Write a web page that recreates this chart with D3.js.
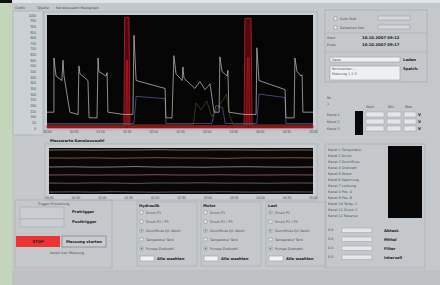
<!DOCTYPE html>
<html>
<head>
<meta charset="utf-8">
<script src="https://cdn.jsdelivr.net/npm/d3@7"></script>
<style>
body { margin: 0; background: #c4c8cb; }
svg { display: block; font-family: "DejaVu Sans", sans-serif; }
.tiny { font-size: 3.4px; fill: #4a4e52; }
.bold { font-size: 3.8px; font-weight: bold; fill: #1c1e20; }
.axis text { font-size: 3.3px; fill: #4a4e52; }
.axis path, .axis line { stroke: none; }
</style>
</head>
<body>
<div id="panel"></div>
<script>
// main graph, time in % of record, value in % of range
const grayT = [0, 2.6, 2.6, 3.4, 5.6, 6.0, 6.4, 8.6, 11.7, 12.0, 12.4, 15.4, 15.8, 18.8, 19.2, 19.5, 22.2, 22.6, 22.9,
    28.9, 32.3, 32.7, 33.5, 44.4, 44.7, 47.0, 47.7, 48.5, 50.8, 51.1, 51.5, 53.8, 55.6, 57.5, 59.4, 61.3, 62.8, 64.7,
    65.0, 65.8, 67.7, 68.0, 68.4, 74.1, 78.6, 78.9, 79.7, 89.5, 89.8, 92.9, 93.2, 94.0, 95.5, 95.9, 96.2, 100];
const grayV = [14, 14, 62, 46, 42, 60, 46, 14, 12, 55, 48, 42, 9, 9, 62, 50, 46, 49, 14,
    12, 12, 82, 42, 35, 9, 9, 64, 48, 42, 54, 44, 39, 35, 41, 34, 39, 14, 14,
    63, 50, 46, 51, 14, 12, 12, 71, 42, 34, 9, 9, 62, 50, 46, 47, 14, 14];
const redT = [0, 28.9, 29.2, 30.8, 31.2, 74.1, 74.4, 76.7, 77.1, 100];
const redV = [2, 2, 98, 98, 2, 2, 97, 97, 2, 2];
const darkRedT = [0, 29.7, 29.9, 30.3, 30.5, 75.1, 75.3, 75.9, 76.1, 100];
const darkRedV = [1, 1, 60, 60, 1, 1, 62, 62, 1, 1];
const blueT = [0, 32.7, 33.5, 44.4, 44.7, 62.0, 63.5, 66.0, 67.0, 78.9, 79.7, 89.5, 89.8, 100];
const blueV = [4, 4, 28, 26, 4, 4, 20, 18, 4, 4, 30, 27, 4, 4];
const yellowT = [0, 55.0, 56.0, 58.0, 60.0, 62.0, 67.5, 68.5, 70.0, 100];
const yellowV = [3, 3, 22, 16, 24, 10, 30, 12, 3, 3];
const yTicks = [0, 5, 10, 15, 20, 25, 30, 35, 40, 45, 50, 55, 60, 65, 70, 75, 80, 85, 90, 95, 100];
const xTicks = [0, 10, 20, 30, 40, 50, 60, 70, 80, 90, 100];
const xTickLabels = ["00:00", "00:30", "01:00", "01:30", "02:00", "02:30", "03:00", "03:30", "04:00", "04:30", "05:00"];

// strip chart, one lane per channel
const stripT = [0, 9, 17, 24, 33, 41, 50, 58, 66, 75, 83, 91, 100];
const laneA = [5.74, 5.76, 5.72, 5.75, 5.74, 5.78, 5.73, 5.74, 5.76, 5.74, 5.72, 5.75, 5.74];
const laneB = [4.70, 4.68, 4.72, 4.66, 4.70, 4.74, 4.69, 4.70, 4.64, 4.71, 4.70, 4.73, 4.70];
const laneC = [3.52, 3.55, 3.50, 3.52, 3.58, 3.51, 3.52, 3.49, 3.53, 3.56, 3.52, 3.50, 3.52];
const laneD = [2.48, 2.50, 2.46, 2.49, 2.48, 2.52, 2.47, 2.48, 2.51, 2.46, 2.48, 2.50, 2.48];
const laneE = [1.43, 1.40, 1.45, 1.43, 1.38, 1.44, 1.43, 1.46, 1.42, 1.43, 1.40, 1.44, 1.43];
const laneF = [0.26, 0.28, 0.25, 0.30, 0.26, 0.24, 0.27, 0.26, 0.29, 0.25, 0.26, 0.28, 0.26];
const laneColors = ["#d9b9a6", "#c89868", "#dcdcd6", "#d88a94", "#7aa8a6", "#9a9cc4"];

const svg = d3.select("#panel").append("svg")
    .attr("width", 440)
    .attr("height", 285);

// background pieces
svg.append("rect").attr("width", 440).attr("height", 285).attr("fill", "#c4c8cb");
svg.append("rect").attr("x", 0).attr("y", 0).attr("width", 12).attr("height", 285).attr("fill", "#c3d5bb");
svg.append("rect").attr("x", 0).attr("y", 0).attr("width", 12).attr("height", 3).attr("fill", "#111");
svg.append("rect").attr("x", 12).attr("y", 0).attr("width", 428).attr("height", 3).attr("fill", "#dde4ea");
svg.append("rect").attr("x", 12).attr("y", 270).attr("width", 428).attr("height", 15).attr("fill", "#bdc1c4");

function label(x, y, t, cls, anchor) {
    svg.append("text").attr("class", cls || "tiny").attr("x", x).attr("y", y)
        .attr("text-anchor", anchor || "start").text(t);
}
function box(x, y, w, h, fill, stroke) {
    svg.append("rect").attr("x", x).attr("y", y).attr("width", w).attr("height", h)
        .attr("fill", fill || "none").attr("stroke", stroke || "#a3a8ad").attr("stroke-width", 0.6);
}
function check(x, y, on) {
    box(x, y, 3, 3, "#f4f4f4", "#8a8f94");
    if (on) svg.append("rect").attr("x", x + 0.8).attr("y", y + 0.8).attr("width", 1.4).attr("height", 1.4).attr("fill", "#2a7a4a");
}

// menu
label(15, 9, "Grafik", "tiny");
label(37, 9, "Tabelle", "tiny");
label(56, 9, "Kanalauswahl Messgraph", "tiny");

// main graph
const x = d3.scaleLinear().domain([0, 100]).range([47, 313]);
const y = d3.scaleLinear().domain([0, 100]).range([128, 15]);

box(13, 11, 30, 124, "#ccd1d6", "#a7acb1");
box(44, 12, 273, 118, "#c9cdd1", "#a3a8ad");
svg.append("rect").attr("x", 47).attr("y", 15).attr("width", 266).attr("height", 113).attr("fill", "#050505");

svg.append("g").attr("class", "axis")
    .attr("transform", "translate(39,0)")
    .call(d3.axisLeft(y).tickValues(yTicks).tickSize(0).tickPadding(3).tickFormat(d => (d * 10).toFixed(0)));
svg.append("g").attr("class", "axis")
    .attr("transform", "translate(0,129)")
    .call(d3.axisBottom(x).tickValues(xTicks).tickSize(0).tickPadding(2).tickFormat((d, i) => xTickLabels[i]));

const line = d3.line().x(d => x(d[0])).y(d => y(d[1]));
const area = d3.area().x(d => x(d[0])).y0(y(0)).y1(d => y(d[1]));
function trace(ts, vs, color, w, op) {
    svg.append("path")
        .datum(ts.map((t, i) => [t, vs[i]]))
        .attr("d", line)
        .attr("fill", "none")
        .attr("stroke", color)
        .attr("stroke-width", w)
        .attr("opacity", op);
}
// red channel drawn as a band
svg.append("path")
    .datum(redT.map((t, i) => [t, redV[i]]))
    .attr("d", area)
    .attr("fill", "#4e0a10")
    .attr("stroke", "#b81a24")
    .attr("stroke-width", 0.9);
trace(darkRedT, darkRedV, "#d8242c", 0.8, 0.8);
trace(blueT, blueV, "#4c5c8e", 0.9, 0.85);
trace(yellowT, yellowV, "#a89040", 0.6, 0.55);
trace(grayT, grayV, "#c2c2bb", 0.8, 0.9);

// strip chart
const x2 = d3.scaleLinear().domain([0, 100]).range([49, 313]);
const y2 = d3.scaleLinear().domain([0, 6]).range([194, 148]);
label(50, 142, "Messwerte Kanalauswahl", "bold");
box(45, 144, 272, 56, "#c9cdd1", "#a3a8ad");
svg.append("rect").attr("x", 49).attr("y", 148).attr("width", 264).attr("height", 46).attr("fill", "#0a0506");
svg.append("g").attr("class", "axis")
    .attr("transform", "translate(0,195)")
    .call(d3.axisBottom(x2).tickValues(xTicks).tickSize(0).tickPadding(2).tickFormat((d, i) => xTickLabels[i]));
const line2 = d3.line().x(d => x2(d[0])).y(d => y2(d[1]));
[laneA, laneB, laneC, laneD, laneE, laneF].forEach((lane, k) => {
    svg.append("path")
        .datum(stripT.map((t, i) => [t, lane[i]]))
        .attr("d", line2)
        .attr("fill", "none")
        .attr("stroke", laneColors[k])
        .attr("stroke-width", 0.7)
        .attr("opacity", 0.8);
});

// right upper settings
box(325, 10, 102, 72, "none", "#a3a8ad");
check(334, 17, false);
label(340, 20, "Auto Skal.", "tiny");
box(378, 16, 32, 4, "#d4d8dc", "#9aa0a6");
check(334, 26, false);
label(340, 29, "Zeitachse fest", "tiny");
box(378, 25, 32, 4, "#d4d8dc", "#9aa0a6");
svg.append("line").attr("x1", 326).attr("x2", 426).attr("y1", 33).attr("y2", 33).attr("stroke", "#a3a8ad").attr("stroke-width", 0.5);
label(327, 39, "Start", "tiny");
label(362, 39, "10.10.2007 09:12", "bold");
label(327, 46, "Ende", "tiny");
label(362, 46, "10.10.2007 09:17", "bold");
svg.append("line").attr("x1", 326).attr("x2", 426).attr("y1", 52).attr("y2", 52).attr("stroke", "#a3a8ad").attr("stroke-width", 0.5);
box(330, 57, 70, 5, "#eef0f2", "#9aa0a6");
label(332, 60.8, "Datei", "tiny");
label(403, 61, "Laden", "bold");
box(330, 66, 70, 14, "#eef0f2", "#9aa0a6");
label(332, 70, "Kommentar  ...", "tiny");
label(332, 75, "Messung  1  2  3", "tiny");
label(403, 70, "Speich.", "bold");

// right table
label(327, 99, "Nr.", "tiny");
label(327, 105, "1", "tiny");
label(366, 108, "Wert", "tiny");
label(388, 108, "Min", "tiny");
label(405, 108, "Max", "tiny");
svg.append("rect").attr("x", 355).attr("y", 111).attr("width", 8).attr("height", 24).attr("fill", "#08080a");
["Kanal 1", "Kanal 2", "Kanal 3"].forEach((t, i) => {
    label(327, 116 + i * 7, t, "tiny");
    box(366, 112 + i * 7, 18, 5, "#e4e7ea", "#a3a8ad");
    box(387, 112 + i * 7, 14, 5, "#e4e7ea", "#a3a8ad");
    box(404, 112 + i * 7, 12, 5, "#e4e7ea", "#a3a8ad");
    label(418, 116 + i * 7, "V", "bold");
});

// right lower list
box(325, 144, 100, 124, "none", "#a7acb1");
const listItems = ["Kanal 1  Temperatur", "Kanal 2  Druck", "Kanal 3  Durchfluss", "Kanal 4  Drehzahl", "Kanal 5  Strom",
    "Kanal 6  Spannung", "Kanal 7  Leistung", "Kanal 8  Pos. A", "Kanal 9  Pos. B", "Kanal 10 Temp. 2", "Kanal 11 Druck 2", "Kanal 12 Reserve"];
listItems.forEach((t, i) => label(328, 151 + i * 6, t, "tiny"));
svg.append("rect").attr("x", 388).attr("y", 146).attr("width", 34).attr("height", 72).attr("fill", "#070708");
["Abtast.", "Mittel", "Filter", "Intervall"].forEach((t, i) => {
    label(328, 231 + i * 9, "0.0", "tiny");
    box(342, 228 + i * 9, 30, 4.5, "#e4e7ea", "#a3a8ad");
    label(384, 231.5 + i * 9, t, "bold");
});

// lower left controls
box(15, 200, 97, 68, "none", "#a7acb1");
label(38, 205, "Trigger Einstellung", "tiny");
box(20, 207, 44, 12, "#c9cdd2", "#a3a8ad");
box(20, 219, 44, 8, "#c9cdd2", "#a3a8ad");
label(72, 213, "Pretrigger", "bold");
label(72, 223, "Posttrigger", "bold");
svg.append("rect").attr("x", 16).attr("y", 236).attr("width", 44).attr("height", 11).attr("fill", "#ec3436");
label(38, 243, "STOP", "bold", "middle");
box(62, 236, 44, 11, "#c8ccd0", "#6f7478");
label(84, 243, "Messung starten", "bold", "middle");
label(50, 254, "bereit fuer Messung", "tiny");

// three channel groups
const groups = ["Hydraulik", "Motor", "Last"];
const groupX = [137, 201, 266];
const groupItems = ["Druck P1", "Druck P2 / P3", "Durchfluss Q1 Ventil", "Temperatur Tank", "Pumpe Drehzahl"];
const groupOn = [[0, 0, 1, 0, 1], [0, 0, 1, 0, 1], [1, 0, 1, 0, 1]];
groups.forEach((g, k) => {
    const gx = groupX[k];
    box(gx, 202, 60, 64, "none", "#a7acb1");
    label(gx + 2, 207, g, "bold");
    groupItems.forEach((t, i) => {
        check(gx + 3, 211 + i * 9, groupOn[k][i]);
        label(gx + 9, 214 + i * 9, t, "tiny");
    });
    box(gx + 3, 256, 14, 5, "#f0f2f4", "#9aa0a6");
    label(gx + 20, 260, "Alle waehlen", "bold");
});
</script>
</body>
</html>
